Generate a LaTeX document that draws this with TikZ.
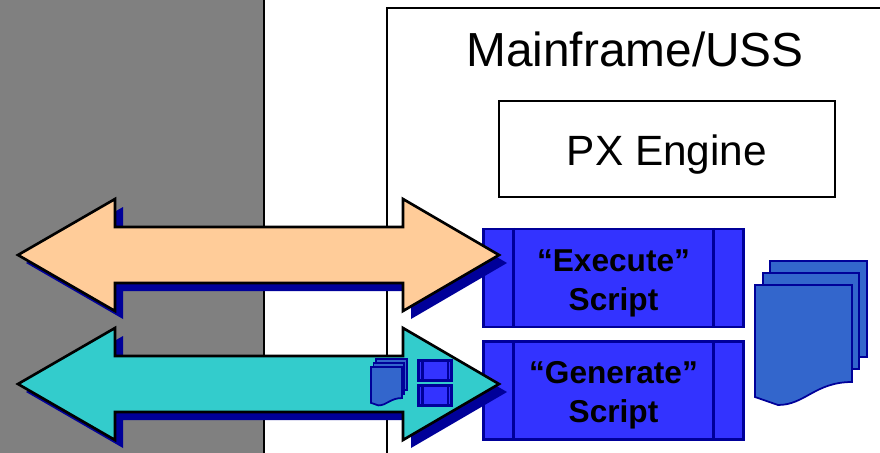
\documentclass[tikz,border=0pt]{standalone}
\usepackage{xcolor}
\usepackage{fontspec}
\setmainfont{Liberation Sans}

\definecolor{shadowblue}{HTML}{000099}
\definecolor{scriptblue}{HTML}{3333FF}
\definecolor{docblue}{HTML}{3366CC}
\definecolor{peach}{HTML}{FFCC99}
\definecolor{arrowteal}{HTML}{33CCCC}

\tikzset{
    scriptbox/.style={shape=rectangle,draw=shadowblue,fill=scriptblue,line width=1.2pt,minimum width=5.2cm,minimum height=1.96cm,inner sep=0pt},
    scripttext/.style={align=center,yshift=-0.1cm,font=\fontsize{18}{22.2}\selectfont\bfseries},
    minibox/.style={shape=rectangle,draw=shadowblue,fill=scriptblue,line width=1.2pt,minimum width=0.66cm,minimum height=0.4cm,inner sep=0pt},
    doc/.style={draw=shadowblue,fill=docblue,line width=1pt},
    docstack/.pic={
        \draw[doc] (15,-24) rectangle (112,72);
        \draw[doc] (8,-12) rectangle (104,84);
        \draw[doc] (0,0) -- (97,0) -- (97,97) .. controls (60,97) and (50,120) .. (23,120) -- (0,112) -- cycle;
    }
}

\begin{document}
\begin{tikzpicture}[x=0.02cm,y=-0.02cm]
    \useasboundingbox (0,0) rectangle (880,453);

    \fill[gray] (0,0) rectangle (264,453);
    \draw[line width=1.3pt] (264,0) -- (264,453);
    \draw[line width=1.3pt] (387,453) -- (387,8) -- (880,8);

    \node[font=\fontsize{27.2}{30}\selectfont] (mainframe) at (635,49) {Mainframe/USS};
    \node[shape=rectangle,draw=black,line width=1.1pt,minimum width=6.72cm,minimum height=1.92cm,label={[font=\fontsize{24.1}{28}\selectfont,yshift=-0.12cm]center:PX Engine}] (engine) at (667,149) {};

    \node[scriptbox,label={[scripttext]center:``Execute''\\Script}] (execute) at (613.5,278) {};
    \node[scriptbox,label={[scripttext]center:``Generate''\\Script}] (generate) at (613.5,390.5) {};

    \foreach \name in {execute,generate} {
        \draw[draw=shadowblue,line width=1.2pt] ([xshift=0.62cm]\name.north west) -- ([xshift=0.62cm]\name.south west);
        \draw[draw=shadowblue,line width=1.2pt] ([xshift=-0.62cm]\name.north east) -- ([xshift=-0.62cm]\name.south east);
    }

    % arrows, shadow first
    \foreach \y/\col in {255/peach,384/arrowteal} {
        \fill[shadowblue,shift={(8,8)}] (18,\y) -- (115,\y-56) -- (115,\y-28) -- (403,\y-28) -- (403,\y-56) -- (499,\y) -- (403,\y+56) -- (403,\y+28) -- (115,\y+28) -- (115,\y+56) -- cycle;
        \draw[fill=\col,line width=1.5pt] (18,\y) -- (115,\y-56) -- (115,\y-28) -- (403,\y-28) -- (403,\y-56) -- (499,\y) -- (403,\y+56) -- (403,\y+28) -- (115,\y+28) -- (115,\y+56) -- cycle;
    }

    \node[minibox] (miniA) at (435,370.5) {};
    \node[minibox] (miniB) at (435,395.5) {};
    \foreach \name in {miniA,miniB} {
        \draw[draw=shadowblue,line width=1.2pt] ([xshift=0.1cm]\name.north west) -- ([xshift=0.1cm]\name.south west);
        \draw[draw=shadowblue,line width=1.2pt] ([xshift=-0.1cm]\name.north east) -- ([xshift=-0.1cm]\name.south east);
    }

    \pic at (755,285) {docstack};
    \pic[scale=0.32] at (371,367) {docstack};
\end{tikzpicture}
\end{document}
